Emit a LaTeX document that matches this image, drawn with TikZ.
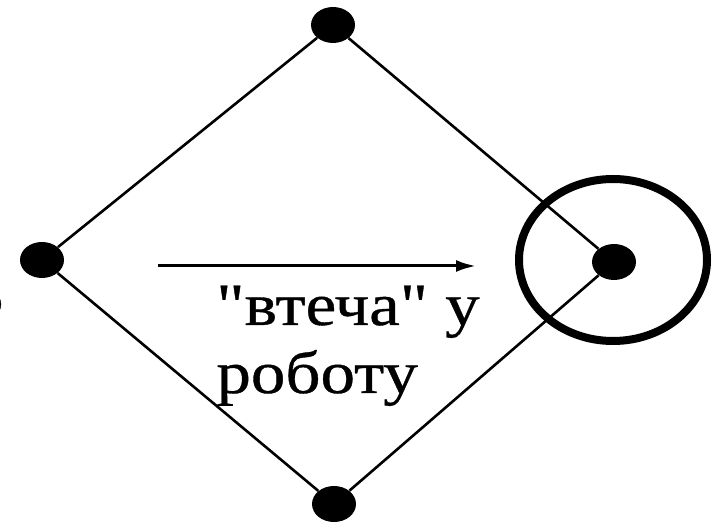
\documentclass[tikz,border=0pt]{standalone}
\usepackage{fontspec}
\setmainfont{Liberation Serif}
\newfontfamily\widefont[FakeStretch=1.15,FakeBold=0.6]{Liberation Serif}
\usetikzlibrary{arrows.meta,positioning,shapes.geometric}

\begin{document}
\begin{tikzpicture}[x=0.5pt,y=-0.5pt,
  vertex/.style={ellipse,fill=black,minimum width=22pt,minimum height=18pt,inner sep=0pt},
  goal/.style={ellipse,draw,line width=4pt,minimum width=94pt,minimum height=81pt,inner sep=0pt},
  edge/.style={line width=1.3pt},
  caption/.style={font=\widefont\fontsize{30}{34}\selectfont,align=left,inner sep=0pt},
]
  \useasboundingbox (0,0) rectangle (717,528);
  \node[vertex] (top) at (333,25) {};
  \node[vertex] (left) at (42,260) {};
  \node[vertex] (bottom) at (334,504) {};
  \node[vertex] (right) at (614,262) {};
  \node[goal] (target) at (613,260) {};
  \draw[edge] (left) -- (top) -- (right) -- (bottom) -- (left);
  \coordinate (arrowstart) at (158,266);
  \coordinate (arrowend) at (476,266);
  \draw[line width=1.5pt,-{Latex[length=10pt,width=6pt]}] (arrowstart) -- (arrowend);
  \node[caption,anchor=base west] (escape) at (216,393) {\symbol{34}втеча\symbol{34} у\\роботу};
  \node[caption,anchor=base east] (mark) at (4,316) {5};
\end{tikzpicture}
\end{document}
